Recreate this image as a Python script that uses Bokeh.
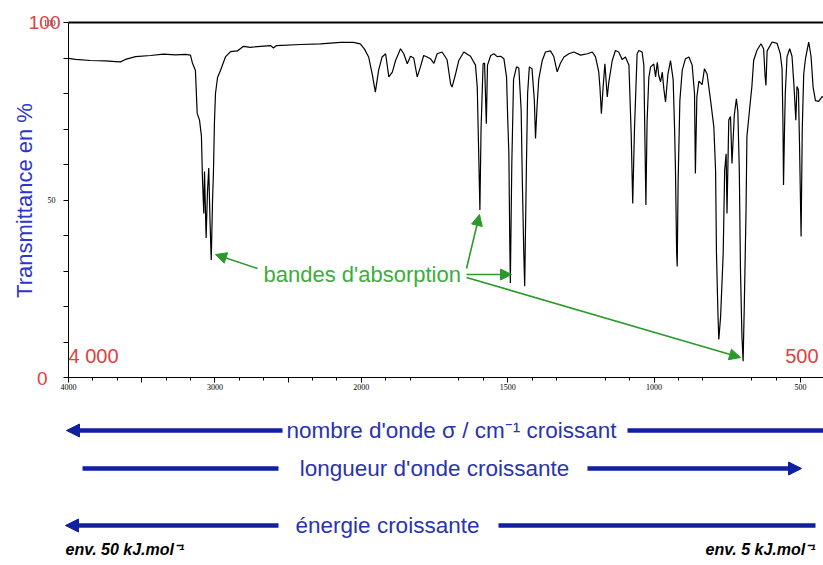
from bokeh.plotting import figure
from bokeh.models import Range1d, FixedTicker, Label, Arrow, NormalHead, LinearAxis
from bokeh.embed import file_html
from bokeh.resources import INLINE

# ---------------- data ----------------
wavenumber_cm1 = [
    4000, 3952, 3850, 3747, 3679, 3645, 3611, 3542, 3440, 3351,
    3269, 3201, 3167, 3153, 3133, 3121, 3105, 3092, 3085, 3076,
    3071, 3060, 3051, 3042, 3034, 3025, 3016, 3010, 3003, 2996,
    2982, 2962, 2928, 2893, 2846, 2805, 2757, 2689, 2620, 2600,
    2579, 2415, 2279, 2142, 2054, 2007, 1989, 1975, 1963, 1952,
    1941, 1929, 1917, 1906, 1894, 1883, 1866, 1855, 1843, 1832,
    1821, 1809, 1798, 1787, 1775, 1764, 1752, 1741, 1724, 1707,
    1695, 1690, 1678, 1667, 1650, 1627, 1610, 1604, 1599, 1595,
    1591, 1584, 1579, 1573, 1569, 1558, 1547, 1536, 1524, 1513,
    1504, 1500, 1496, 1493, 1491, 1486, 1480, 1470, 1462, 1454,
    1450, 1445, 1442, 1436, 1432, 1426, 1417, 1409, 1405, 1400,
    1394, 1382, 1371, 1354, 1343, 1331, 1320, 1308, 1291, 1274,
    1251, 1228, 1211, 1200, 1189, 1185, 1180, 1174, 1168, 1160,
    1155, 1143, 1132, 1121, 1109, 1098, 1086, 1078, 1073, 1067,
    1058, 1052, 1041, 1035, 1032, 1028, 1024, 1018, 1012, 1001,
    995, 989, 984, 978, 972, 967, 961, 953, 944, 935,
    930, 927, 923, 921, 918, 912, 904, 893, 881, 870,
    862, 859, 854, 847, 836, 828, 819, 807, 796, 790,
    787, 782, 779, 773, 764, 759, 754, 751, 745, 739,
    734, 726, 719, 714, 709, 705, 700, 696, 692, 686,
    683, 674, 666, 660, 649, 635, 626, 621, 618, 614,
    597, 580, 569, 563, 560, 558, 555, 552, 546, 537,
    529, 522, 516, 512, 507, 503, 498, 494, 489, 483,
    472, 464, 457, 449, 438, 426, 421,
]
transmittance_pct = [
    89.9, 89.6, 89.3, 89.2, 89.0, 88.9, 89.6, 90.4, 90.7, 91.1,
    90.9, 91.0, 90.8, 88.5, 86.5, 74.4, 72.5, 68.0, 56.0, 46.2,
    58.0, 39.3, 52.0, 59.0, 45.0, 33.1, 50.0, 57.6, 72.0, 80.0,
    84.5, 86.5, 90.3, 91.8, 92.0, 93.3, 93.0, 93.3, 93.5, 92.8,
    93.5, 93.8, 94.0, 94.4, 94.4, 94.0, 92.5, 90.3, 85.6, 80.4,
    86.5, 90.3, 91.2, 84.7, 86.0, 89.3, 92.6, 91.2, 88.4, 90.5,
    90.0, 84.7, 87.5, 90.7, 90.3, 89.8, 88.5, 91.2, 91.7, 89.5,
    82.7, 81.8, 85.5, 89.3, 91.7, 90.5, 88.0, 81.8, 63.0, 47.2,
    70.0, 88.4, 88.6, 71.5, 88.0, 90.7, 91.2, 90.4, 90.5, 89.8,
    84.7, 73.0, 63.0, 38.8, 26.6, 60.0, 84.0, 87.5, 87.2, 75.3,
    55.0, 35.0, 25.7, 60.0, 80.0, 87.5, 87.0, 78.0, 67.3, 76.0,
    84.0, 89.3, 91.7, 92.0, 90.5, 86.1, 88.5, 90.3, 91.2, 91.7,
    90.8, 91.2, 91.7, 90.3, 86.0, 81.8, 74.3, 82.0, 88.4, 79.0,
    83.0, 89.3, 92.1, 91.7, 89.6, 90.3, 88.0, 67.9, 49.0, 70.0,
    91.2, 92.1, 91.7, 88.0, 70.6, 48.6, 72.0, 84.5, 87.5, 88.3,
    84.7, 88.8, 85.0, 83.3, 86.0, 81.5, 77.6, 85.3, 89.3, 84.0,
    70.0, 58.4, 35.0, 31.3, 55.0, 78.0, 86.5, 89.8, 90.3, 88.0,
    80.0, 57.5, 79.0, 83.5, 82.5, 87.0, 85.5, 78.0, 70.6, 58.4,
    35.0, 18.1, 10.7, 17.0, 35.0, 58.4, 63.0, 46.2, 72.5, 73.5,
    60.3, 74.0, 78.5, 75.0, 58.4, 30.3, 11.6, 4.6, 20.0, 47.0,
    67.9, 75.5, 82.0, 89.3, 92.1, 94.0, 92.6, 85.0, 82.3, 92.0,
    94.5, 94.1, 91.2, 87.0, 72.0, 54.2, 68.0, 80.0, 90.3, 92.6,
    90.5, 81.8, 72.5, 82.0, 81.0, 64.0, 39.7, 70.0, 85.5, 89.8,
    94.5, 90.5, 81.8, 78.0, 77.8, 79.1, 79.0,
]

x_tick_wavenumbers = [4000, 3500, 3000, 2500, 2000, 1500, 1000, 500]
x_tick_labels = ["4000", "", "3000", "", "2000", "1500", "1000", "500"]
y_ticks = [0, 10, 20, 30, 40, 50, 60, 70, 80, 90, 100]
y_tick_labels = {0: "", 10: "", 20: "", 30: "", 40: "", 50: "50",
                 60: "", 70: "", 80: "", 90: "", 100: "100"}
last_wavenumber = 421


# The spectrometer axis is compressed by 2 above 2000 cm-1:
# one axis unit = 1000 cm-1 above 2000, 500 cm-1 below.
def to_u(s):
    if s >= 2000:
        return (4000 - s) / 1000.0
    return 2.0 + (2000 - s) / 500.0


x_vals = [to_u(s) for s in wavenumber_cm1]

# ---------------- page geometry (pixels) ----------------
W, H = 823, 565
X0_PX, PX_PER_U = 68.0, 146.4      # axis origin (u = 0) and pixels per unit
Y0_PX, PX_PER_T = 377.0, 3.55      # T = 0 line and pixels per % T


def px_u(px):
    return (px - X0_PX) / PX_PER_U


def py_t(py):
    return (Y0_PX - py) / PX_PER_T


BLUE_TXT = "#2a33b0"
BLUE_LINE = "#1020a0"
RED = "#e0403e"
GREEN_TXT = "#3aae3a"
GREEN_ARR = "#2a9a2a"
FONT = "Liberation Sans"

p = figure(width=W, height=H, output_backend="svg", toolbar_location=None,
           x_range=Range1d(px_u(0), px_u(W)), y_range=Range1d(py_t(H), py_t(0)),
           min_border=0, x_axis_location=None, y_axis_location=None)
p.grid.visible = False
p.outline_line_color = None
p.background_fill_color = "white"
p.border_fill_color = "white"

u_end = to_u(last_wavenumber)

# spectrum
p.line(x_vals, transmittance_pct, line_color="black", line_width=1.2)

# top frame line
p.segment(x0=[0], y0=[100], x1=[u_end], y1=[100], line_color="black",
          line_width=2)

# axes (fixed at the data origin of the spectrum frame)
minor = [i / 6.0 for i in range(0, 31) if i % 6 != 0 and i % 6 != 3]
xax = LinearAxis(fixed_location=0, bounds=(0, u_end),
                 ticker=FixedTicker(ticks=[to_u(s) for s in x_tick_wavenumbers],
                                    minor_ticks=minor))
xax.major_label_overrides = {to_u(s): lab for s, lab in
                             zip(x_tick_wavenumbers, x_tick_labels)}
xax.major_label_text_font = "Liberation Serif"
xax.major_label_text_font_size = "8px"
xax.major_label_text_color = "black"
xax.major_label_standoff = 1
xax.major_tick_out = 5
xax.major_tick_in = 0
xax.minor_tick_out = 3
xax.minor_tick_in = 0
xax.axis_line_color = "black"
p.add_layout(xax, "below")

yax = LinearAxis(fixed_location=0, bounds=(0, 100),
                 ticker=FixedTicker(ticks=y_ticks, minor_ticks=[]))
yax.major_label_overrides = y_tick_labels
yax.major_label_text_font = "Liberation Serif"
yax.major_label_text_font_size = "8px"
yax.major_label_text_color = "black"
yax.major_label_standoff = 8
yax.major_tick_out = 5
yax.major_tick_in = 0
yax.axis_line_color = "black"
p.add_layout(yax, "left")

# y axis title
p.add_layout(Label(x=px_u(24), y=py_t(200), text="Transmittance en %",
                   angle=90, angle_units="deg", text_align="center",
                   text_baseline="middle", text_color="#2b35d0",
                   text_font=FONT, text_font_size="22px"))

# red labels
p.add_layout(Label(x=px_u(60), y=100, text="100", text_align="right",
                   text_baseline="middle", text_color=RED, text_font=FONT,
                   text_font_size="19px"))
p.add_layout(Label(x=px_u(47), y=py_t(378), text="0", text_align="right",
                   text_baseline="middle", text_color=RED, text_font=FONT,
                   text_font_size="19px"))
p.add_layout(Label(x=to_u(4000), y=py_t(355), text="4 000", text_align="left",
                   text_baseline="middle", text_color=RED, text_font=FONT,
                   text_font_size="20px"))
p.add_layout(Label(x=px_u(818), y=py_t(355), text="500", text_align="right",
                   text_baseline="middle", text_color=RED, text_font=FONT,
                   text_font_size="20px"))

# green annotation
p.add_layout(Label(x=px_u(263), y=py_t(274), text="bandes d'absorption",
                   text_align="left", text_baseline="middle",
                   text_color=GREEN_TXT, text_font=FONT,
                   text_font_size="22px"))


def garrow(xs, ys, xe, ye):
    p.add_layout(Arrow(end=NormalHead(size=11, fill_color=GREEN_ARR,
                                      line_color=GREEN_ARR, line_width=1),
                       x_start=px_u(xs), y_start=py_t(ys),
                       x_end=px_u(xe), y_end=py_t(ye),
                       line_color=GREEN_ARR, line_width=1.6))


garrow(257, 268, 215, 254)
garrow(466, 268, 479, 214)
garrow(466, 274, 511, 274)
garrow(466, 277, 740, 357)


# ---------------- bottom: wavenumber / wavelength / energy arrows ----------------
def barrow(xs, xe, y):
    p.add_layout(Arrow(end=NormalHead(size=13, fill_color=BLUE_LINE,
                                      line_color=BLUE_LINE, line_width=1),
                       x_start=px_u(xs), y_start=py_t(y),
                       x_end=px_u(xe), y_end=py_t(y),
                       line_color=BLUE_LINE, line_width=4.5))


def bline(xs, xe, y):
    p.segment(x0=[px_u(xs)], y0=[py_t(y)], x1=[px_u(xe)], y1=[py_t(y)],
              line_color=BLUE_LINE, line_width=4.5)


def btext(x, y, t):
    p.add_layout(Label(x=px_u(x), y=py_t(y), text=t, text_align="center",
                       text_baseline="middle", text_color=BLUE_TXT,
                       text_font=FONT, text_font_size="22.5px"))


barrow(282, 66, 430)
btext(451, 430, "nombre d'onde σ / cm⁻¹ croissant")
bline(627, 823, 430)

bline(82, 278, 468)
btext(434, 468, "longueur d'onde croissante")
barrow(587, 801, 468)

barrow(278, 65, 525)
btext(387, 525, "énergie croissante")
bline(498, 815, 525)

p.add_layout(Label(x=px_u(65), y=py_t(549), text="env. 50 kJ.mol⁻¹",
                   text_align="left", text_baseline="middle",
                   text_color="black", text_font=FONT,
                   text_font_style="bold italic", text_font_size="16px"))
p.add_layout(Label(x=px_u(815), y=py_t(549), text="env. 5 kJ.mol⁻¹",
                   text_align="right", text_baseline="middle",
                   text_color="black", text_font=FONT,
                   text_font_style="bold italic", text_font_size="16px"))

open("out.html", "w").write(file_html(p, INLINE))
